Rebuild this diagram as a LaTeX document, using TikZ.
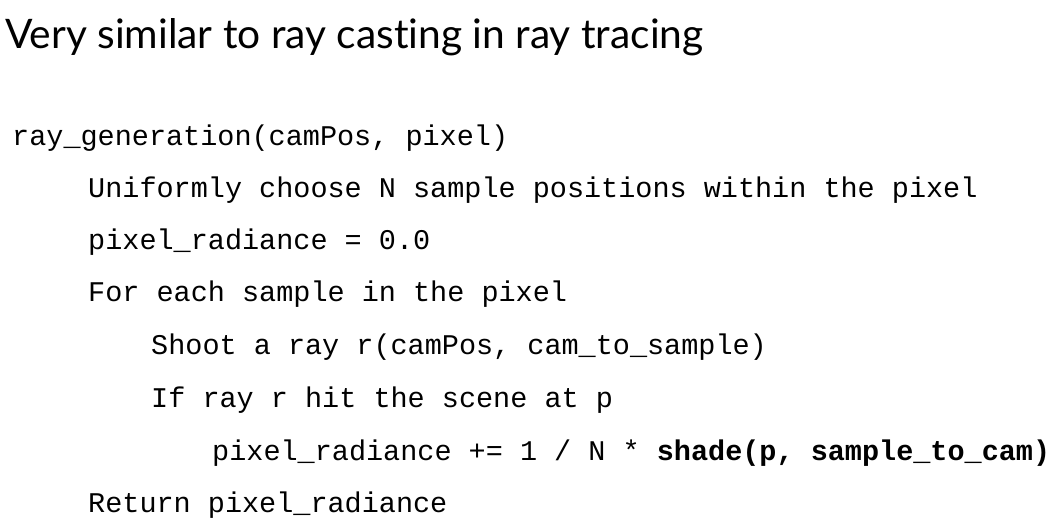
\documentclass[tikz,border=0pt]{standalone}
\usepackage{fontspec}
\setmainfont[Ligatures=NoCommon]{Lato}
\newfontfamily\codefont{Liberation Mono}
\begin{document}
\begin{tikzpicture}[x=1pt,y=-1pt,
    title/.style={anchor=base west,inner sep=0pt,font=\fontsize{40.7}{46}\selectfont},
    code/.style={anchor=base west,inner sep=0pt,font=\codefont\fontsize{28.5}{32}\selectfont}]
    \useasboundingbox (0,0) rectangle (1057,526);
    \node[title] (head) at (5,49) {Very similar to ray casting in ray tracing};
    \node[code] (gen) at (12,146) {ray\_generation(camPos, pixel)};
    \node[code] (choose) at (88,198) {Uniformly choose N sample positions within the pixel};
    \node[code] (init) at (88,250) {pixel\_radiance = 0.0};
    \node[code] (loop) at (88,302) {For each sample in the pixel};
    \node[code] (shoot) at (151,355) {Shoot a ray r(camPos, cam\_to\_sample)};
    \node[code] (hit) at (151,407) {If ray r hit the scene at p};
    \node[code] (accum) at (212,460) {pixel\_radiance += 1 / N * \textbf{shade(p, sample\_to\_cam)}};
    \node[code] (ret) at (88,512) {Return pixel\_radiance};
\end{tikzpicture}
\end{document}
